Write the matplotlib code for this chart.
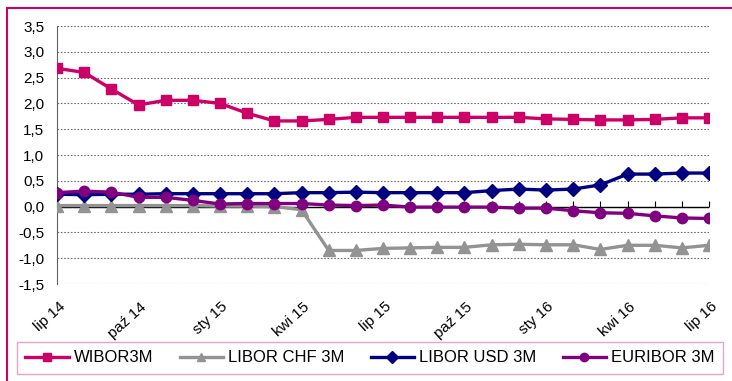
import matplotlib.pyplot as plt
import matplotlib.transforms as mtransforms
from matplotlib.patches import Rectangle
import numpy as np

plt.rcParams['font.family'] = ['Liberation Sans', 'DejaVu Sans']

# monthly, lip 14 .. lip 16
months = ['lip 14', 'sie 14', 'wrz 14', 'paź 14', 'lis 14', 'gru 14', 'sty 15', 'lut 15', 'mar 15',
          'kwi 15', 'maj 15', 'cze 15', 'lip 15', 'sie 15', 'wrz 15', 'paź 15', 'lis 15', 'gru 15',
          'sty 16', 'lut 16', 'mar 16', 'kwi 16', 'maj 16', 'cze 16', 'lip 16']

wibor = [2.68, 2.60, 2.28, 1.97, 2.06, 2.06, 2.00, 1.81, 1.66, 1.66, 1.69, 1.73, 1.73,
         1.73, 1.73, 1.73, 1.73, 1.73, 1.70, 1.69, 1.68, 1.68, 1.69, 1.72, 1.72]
libor_chf = [0.02, 0.02, 0.02, 0.02, 0.02, 0.02, 0.01, 0.01, 0.00, -0.06, -0.85, -0.85, -0.81,
             -0.80, -0.79, -0.79, -0.74, -0.73, -0.74, -0.74, -0.83, -0.75, -0.75, -0.80, -0.75]
libor_usd = [0.24, 0.23, 0.24, 0.24, 0.25, 0.25, 0.25, 0.25, 0.25, 0.27, 0.27, 0.28, 0.27,
             0.27, 0.27, 0.27, 0.31, 0.34, 0.32, 0.34, 0.42, 0.63, 0.63, 0.65, 0.65]
euribor = [0.27, 0.30, 0.28, 0.18, 0.18, 0.12, 0.05, 0.06, 0.06, 0.06, 0.03, 0.02, 0.03,
           -0.01, -0.01, -0.01, -0.01, -0.03, -0.03, -0.08, -0.12, -0.13, -0.18, -0.22, -0.23]

series = [
    ('WIBOR3M', wibor, '#CC0066', 's', 7.5),
    ('LIBOR CHF 3M', libor_chf, '#939393', '^', 8),
    ('LIBOR USD 3M', libor_usd, '#000080', 'D', 7.5),
    ('EURIBOR 3M', euribor, '#800080', 'o', 7.5),
]

fig = plt.figure(figsize=(7.32, 3.81), dpi=100)
ax = fig.add_axes([57/732, 1 - 284/381, 652/732, 258/381])

x = np.arange(len(months))
handles = []
for name, vals, col, mk, ms in series:
    h, = ax.plot(x, vals, color=col, marker=mk, markersize=ms, lw=2.4, label=name, zorder=3)
    handles.append(h)

ax.set_xlim(0, len(months) - 1)
ax.set_ylim(-1.5, 3.5)
yt = np.arange(-1.5, 3.51, 0.5)
ax.set_yticks(yt)
ax.set_yticklabels([('%.1f' % v).replace('.', ',') for v in yt], fontsize=11)
ax.tick_params(axis='y', length=0, pad=9)
ax.yaxis.grid(True, color='#707070', ls=(0, (1.5, 1.5)), lw=0.8)
ax.set_axisbelow(True)

for s in ['top', 'right', 'bottom']:
    ax.spines[s].set_visible(False)
ax.spines['left'].set_color('#606060')

# zero line with month ticks
ax.axhline(0, color='black', lw=1, zorder=2)
sec = ax.secondary_xaxis(1.5 / 5.0)
sec.set_xticks(x)
sec.tick_params(direction='in', length=4, labelbottom=False, color='black')
sec.spines['bottom'].set_visible(False)

ax.set_xticks(x[::3])
ax.set_xticklabels(months[::3], fontsize=11, rotation=42, ha='right', va='center',
                   rotation_mode='anchor')
ax.tick_params(axis='x', length=0, pad=15)
off = mtransforms.ScaledTranslation(6/100, 0, fig.dpi_scale_trans)
for lab in ax.get_xticklabels():
    lab.set_transform(lab.get_transform() + off)

# outer frame
fig.patches.append(Rectangle((7/732, -0.1), 1.2, 1.1 - 8/381, transform=fig.transFigure,
                             fill=False, edgecolor='#CC0066', lw=1.5))

leg = fig.legend(handles=handles, loc='center', ncol=4, mode='expand',
                 bbox_to_anchor=(17/732, 4/381, 706/732, 38/381), fontsize=12,
                 handlelength=2.6, handletextpad=0.3, borderpad=0.5, borderaxespad=0,
                 fancybox=False, frameon=True, markerscale=0.8)
leg.get_frame().set_edgecolor('#E38CBB')
leg.get_frame().set_linewidth(1)

fig.savefig('out.png', dpi=100)
